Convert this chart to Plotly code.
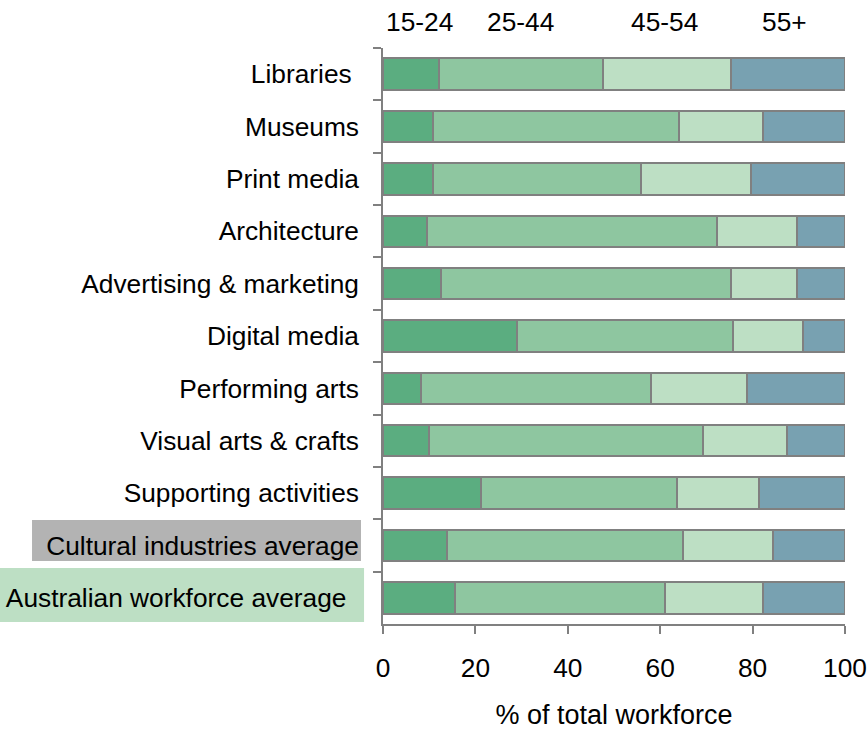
import plotly.graph_objects as go

# Industries, top to bottom
categories = [
    "Libraries\u00a0",
    "Museums",
    "Print media",
    "Architecture",
    "Advertising & marketing",
    "Digital media",
    "Performing arts",
    "Visual arts & crafts",
    "Supporting activities",
    "Cultural industries average",
    "Australian workforce average\u00a0\u2009",
]

# Share of total workforce (%) by age group
age_groups = ["15-24", "25-44", "45-54", "55+"]
share_15_24 = [12.1, 10.8, 10.8, 9.5, 12.6, 29.0, 8.2, 10.0, 21.2, 13.9, 15.6]
share_25_44 = [35.5, 53.3, 45.0, 62.8, 62.7, 46.8, 49.8, 59.3, 42.4, 51.0, 45.4]
share_45_54 = [27.7, 18.2, 23.9, 17.3, 14.3, 15.1, 20.8, 18.1, 17.8, 19.5, 21.3]
share_55_up = [24.7, 17.7, 20.3, 10.4, 10.4, 9.1, 21.2, 12.6, 18.6, 15.6, 17.7]

series = [share_15_24, share_25_44, share_45_54, share_55_up]
colors = ["#5BAD80", "#8EC6A0", "#BDDFC4", "#78A1B1"]
# Horizontal placement of the age-group headers above the bars (x axis units)
header_x = [8.0, 29.7, 61.0, 87.0]

FONT = "Liberation Sans, Arial, sans-serif"
GREY = "#808080"
FS = 26.3

fig = go.Figure()
for name, vals, col in zip(age_groups, series, colors):
    fig.add_trace(go.Bar(
        name=name, y=categories, x=vals, orientation="h",
        marker=dict(color=col, line=dict(color=GREY, width=2)),
        hoverinfo="x+y+name",
    ))

for name, hx in zip(age_groups, header_x):
    fig.add_annotation(
        x=hx, xref="x", y=1.045, yref="paper", text=name, showarrow=False,
        xanchor="center", yanchor="middle", font=dict(size=FS, color="#000"),
    )

# Highlight boxes behind the two average rows' labels
fig.add_shape(type="rect", xref="paper", yref="paper",
              x0=-0.7597, x1=-0.0476, y0=0.1094, y1=0.1806,
              fillcolor="#B3B3B3", line=dict(width=0), layer="below")
fig.add_shape(type="rect", xref="paper", yref="paper",
              x0=-0.83, x1=-0.041, y0=0.0035, y1=0.0972,
              fillcolor="#BDDFC4", line=dict(width=0), layer="below")

fig.update_layout(
    barmode="stack",
    bargap=0.4,
    width=868, height=730,
    margin=dict(l=383, r=23, t=48, b=106, autoexpand=False),
    paper_bgcolor="white", plot_bgcolor="white",
    showlegend=False,
    font=dict(family=FONT, size=FS, color="#000"),
)
fig.update_xaxes(
    range=[0, 100], dtick=20, showgrid=False, zeroline=False, automargin=False,
    showline=True, linecolor=GREY, linewidth=1.5,
    ticks="outside", ticklen=8, tickcolor=GREY, tickwidth=1.5,
    ticklabelstandoff=12,
    tickfont=dict(size=FS),
    title=dict(text="% of total workforce", font=dict(size=27), standoff=25),
)
fig.update_yaxes(
    type="category", autorange="reversed", tickson="boundaries",
    showgrid=False, zeroline=False, automargin=False,
    showline=True, linecolor=GREY, linewidth=1.5,
    ticks="outside", ticklen=8, tickcolor=GREY, tickwidth=1.5,
    ticklabelstandoff=17,
    tickfont=dict(size=FS),
)

fig.write_html("out.html")
